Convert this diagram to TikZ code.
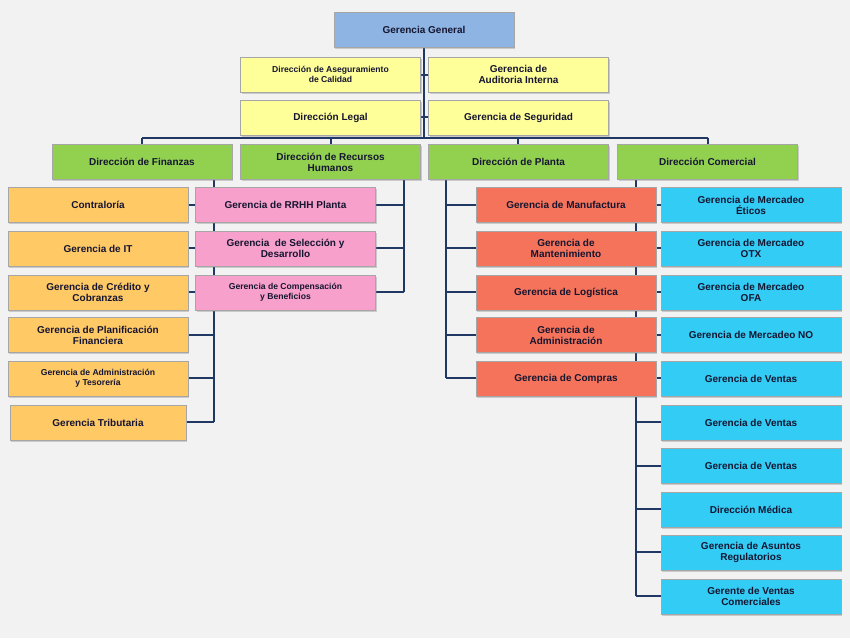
\documentclass[tikz,border=0pt]{standalone}
\usepackage{fontspec}
\setmainfont{Liberation Sans}
\usetikzlibrary{shadows}
\definecolor{bg}{HTML}{F2F2F2}
\definecolor{ln}{HTML}{1F3864}
\definecolor{txt}{HTML}{151530}
\definecolor{cTop}{HTML}{8EB4E3}
\definecolor{cYel}{HTML}{FFFF99}
\definecolor{cGrn}{HTML}{92D050}
\definecolor{cOra}{HTML}{FFC966}
\definecolor{cPnk}{HTML}{F7A0CB}
\definecolor{cRed}{HTML}{F4735A}
\definecolor{cCya}{HTML}{33CCF5}
\tikzset{
  bx/.style={draw=black!35, line width=0.6pt, minimum width=180pt, minimum height=35pt,
    inner sep=1pt, align=center, text=txt, font=\bfseries\fontsize{10}{11}\selectfont,
    drop shadow={shadow xshift=1.2pt, shadow yshift=-1.5pt, opacity=0.35}},
  sm/.style={font=\bfseries\fontsize{8.6}{10}\selectfont},
  wire/.style={draw=ln, line width=2.2pt}
}
\begin{document}
\begin{tikzpicture}[x=1pt,y=-1pt]
\fill[bg] (0,0) rectangle (850,638);
\useasboundingbox (0,0) rectangle (850,638);
% coordinates for wires
\coordinate (tb) at (424,138);
\coordinate (bl) at (142,138);
\coordinate (br) at (708,138);
% wires
\draw[wire] (424,47) -- (tb);
\draw[wire] (bl) -- (br);
\foreach \x in {142,331,518,708} \draw[wire] (\x,138) -- (\x,145);
\draw[wire] (214,179) -- (214,422);
\foreach \y in {205,248,292,335,378,422} \draw[wire] (186,\y) -- (214,\y);
\foreach \y in {205,248,292} \draw[wire] (214,\y) -- (198,\y);
\draw[wire] (404,179) -- (404,292);
\foreach \y in {205,248,292} \draw[wire] (404,\y) -- (373,\y);
\draw[wire] (446,179) -- (446,378);
\foreach \y in {205,248,292,335,378} \draw[wire] (446,\y) -- (478,\y);
\draw[wire] (636,179) -- (636,596);
\foreach \y in {205,248,292,335,378,422,466,509,552,596} \draw[wire] (636,\y) -- (663,\y);
\foreach \y in {205,248,292,335,378} \draw[wire] (636,\y) -- (654,\y);
\draw[wire] (420,75) -- (429,75);
\draw[wire] (420,117) -- (429,117);
% nodes
\node[bx,fill=cTop] (gg) at (424,30) {Gerencia General};
\node[bx,fill=cYel,sm] (dac) at (330.5,74.5) {Dirección de Aseguramiento\\de Calidad};
\node[bx,fill=cYel] (gai) at (518.5,74.5) {Gerencia de\\Auditoria Interna};
\node[bx,fill=cYel] (dl) at (330.5,117.5) {Dirección Legal};
\node[bx,fill=cYel] (gs) at (518.5,117.5) {Gerencia de Seguridad};
\node[bx,fill=cGrn] (df) at (142,162) {Dirección de Finanzas};
\node[bx,fill=cGrn] (drh) at (330.5,162) {Dirección de Recursos\\Humanos};
\node[bx,fill=cGrn] (dp) at (518.5,162) {Dirección de Planta};
\node[bx,fill=cGrn] (dcm) at (707.5,162) {Dirección Comercial};
% orange
\node[bx,fill=cOra] (o1) at (98,205) {Contraloría};
\node[bx,fill=cOra] (o2) at (98,248.5) {Gerencia de IT};
\node[bx,fill=cOra] (o3) at (98,292.5) {Gerencia de Crédito y\\Cobranzas};
\node[bx,fill=cOra] (o4) at (98,335) {Gerencia de Planificación\\Financiera};
\node[bx,fill=cOra,sm] (o5) at (98,378.5) {Gerencia de Administración\\y Tesorería};
\node[bx,fill=cOra,minimum width=176pt] (o6) at (98,422.5) {Gerencia Tributaria};
% pink
\node[bx,fill=cPnk] (p1) at (285.5,205) {Gerencia de RRHH Planta};
\node[bx,fill=cPnk] (p2) at (285.5,248.5) {Gerencia\ \ de Selección y\\Desarrollo};
\node[bx,fill=cPnk,sm] (p3) at (285.5,292.5) {Gerencia de Compensación\\y Beneficios};
% red
\node[bx,fill=cRed] (r1) at (566,205) {Gerencia de Manufactura};
\node[bx,fill=cRed] (r2) at (566,248.5) {Gerencia de\\Mantenimiento};
\node[bx,fill=cRed] (r3) at (566,292.5) {Gerencia de Logística};
\node[bx,fill=cRed] (r4) at (566,335) {Gerencia de\\Administración};
\node[bx,fill=cRed] (r5) at (566,378.5) {Gerencia de Compras};
% cyan
\node[bx,fill=cCya] (c1) at (751,205) {Gerencia de Mercadeo\\Éticos};
\node[bx,fill=cCya] (c2) at (751,248.5) {Gerencia de Mercadeo\\OTX};
\node[bx,fill=cCya] (c3) at (751,292.5) {Gerencia de Mercadeo\\OFA};
\node[bx,fill=cCya] (c4) at (751,335) {Gerencia de Mercadeo NO};
\node[bx,fill=cCya] (c5) at (751,378.5) {Gerencia de Ventas};
\node[bx,fill=cCya] (c6) at (751,422.5) {Gerencia de Ventas};
\node[bx,fill=cCya] (c7) at (751,465.5) {Gerencia de Ventas};
\node[bx,fill=cCya] (c8) at (751,509.5) {Dirección Médica};
\node[bx,fill=cCya] (c9) at (751,552.5) {Gerencia de Asuntos\\Regulatorios};
\node[bx,fill=cCya] (c10) at (751,596.5) {Gerente de Ventas\\Comerciales};
\end{tikzpicture}
\end{document}
